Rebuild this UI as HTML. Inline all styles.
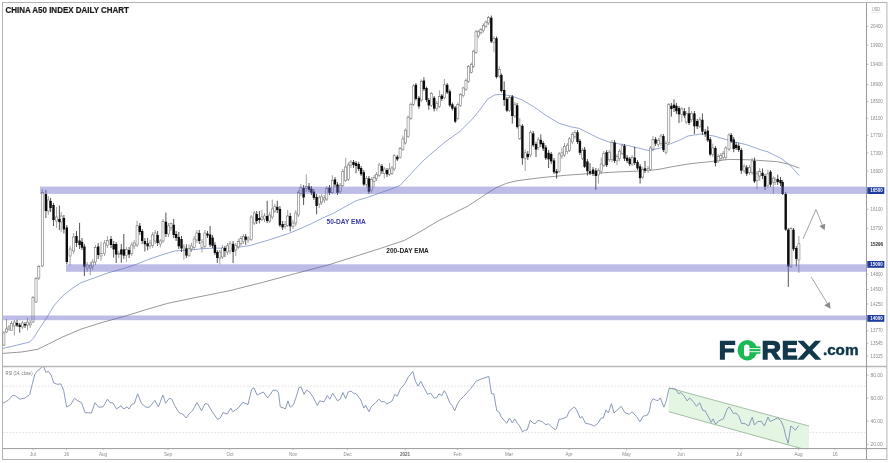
<!DOCTYPE html>
<html><head><meta charset="utf-8"><title>China A50 Index Daily Chart</title>
<style>
html,body{margin:0;padding:0;background:#fff;}
body{width:890px;height:463px;overflow:hidden;font-family:"Liberation Sans",sans-serif;}
svg{display:block;font-family:"Liberation Sans",sans-serif;filter:blur(0.45px);}
</style></head><body>
<svg width="890" height="463" viewBox="0 0 890 463">
<rect x="0" y="0" width="890" height="463" fill="#ffffff"/>

<rect x="2.5" y="2.5" width="884.4" height="457" fill="#fff" stroke="#b4b4b4" stroke-width="1"/>
<path d="M3 386.2H866M3 432.6H866" stroke="#d6d6d6" stroke-width="0.8" stroke-dasharray="1.4 1.8" fill="none"/>
<clipPath id="cp"><rect x="3" y="367" width="806" height="81.6"/></clipPath>
<g clip-path="url(#cp)"><polygon points="669,387.9 809,426 809,460 840,460 668.7,411.7" fill="#e5f5e3" />
<polygon points="669,387.9 809,426 809,450.6 668.7,411.7" fill="#e5f5e3"/>
<path d="M669 387.9L809 426M668.7 411.7L809 450.6" stroke="#9cb99e" stroke-width="0.9" fill="none"/></g>
<polyline points="2.7,353.4 21.6,352.0 37.8,349.3 48.6,343.9 62.1,337.2 81.0,329.1 102.6,322.3 124.2,316.4 145.8,309.7 167.4,303.4 189.0,298.9 210.6,294.5 230.0,290.6 262.6,282.4 295.2,273.6 327.7,265.1 357.2,255.8 380.8,248.3 404.4,240.4 420.0,231.8 437.3,221.4 454.6,212.7 468.4,205.8 478.8,198.9 489.2,192.0 496.1,187.7 506.5,183.3 516.8,180.8 527.2,179.4 541.8,177.6 566.5,175.2 591.2,173.5 616.0,172.0 640.7,171.0 658.0,169.5 672.8,166.6 687.7,164.1 700.0,162.6 707.4,162.0 729.0,159.4 750.6,159.8 765.7,160.9 776.6,161.6 787.4,163.8 799.3,168.0" fill="none" stroke="#7d7d7d" stroke-width="0.8" stroke-linejoin="round"/>
<polyline points="2.7,348.5 16.2,345.3 29.7,342.0 34.0,337.5 39.3,328.8 47.2,317.0 53.9,305.7 62.9,295.6 71.9,288.6 81.0,282.7 94.5,277.8 108.0,272.9 121.5,269.2 135.0,264.8 148.5,259.4 162.0,254.8 175.5,250.8 189.0,250.3 202.5,248.6 216.0,248.1 230.0,248.5 249.5,245.6 269.1,239.9 288.6,233.5 300.0,228.8 311.2,223.8 322.5,218.1 333.7,213.1 344.9,206.9 356.2,200.7 367.4,197.4 378.7,193.4 389.9,189.5 400.0,185.5 412.5,172.0 423.9,160.0 445.0,142.0 460.0,131.3 472.0,119.4 480.0,109.7 487.4,99.3 494.8,94.9 502.2,94.4 512.1,96.1 522.0,99.8 534.4,107.2 546.7,115.9 559.1,123.3 571.5,127.0 578.9,128.3 588.8,133.2 598.7,138.2 608.6,141.9 618.4,143.8 628.3,145.6 638.2,148.0 648.1,150.5 653.1,149.8 660.5,148.0 670.4,143.8 680.2,139.9 688.0,136.0 701.0,133.9 713.9,136.0 729.0,140.4 746.3,144.7 761.4,150.0 768.0,151.9 775.0,155.5 781.0,158.4 789.6,164.8 799.3,175.6" fill="none" stroke="#7f93c6" stroke-width="0.8" stroke-linejoin="round"/>
<path d="M3.9 331.0V346.0M6.5 319.0V333.0M9.0 325.0V331.0M11.5 321.0V331.0M14.4 319.8V335.5M22.5 321.0V329.0M27.5 318.0V330.4M30.2 320.0V328.0M33.0 296.0V323.0M36.0 277.0V303.0M38.8 265.0V280.0M42.3 189.0V267.0M48.3 196.0V215.0M56.6 207.0V228.0M61.2 212.0V232.0M70.1 246.0V265.5M73.7 233.0V254.0M87.2 262.0V272.0M90.3 262.0V275.0M92.7 259.0V270.0M95.5 245.0V265.0M101.0 241.8V260.8M104.6 240.0V256.0M107.4 236.0V248.0M118.8 251.0V258.0M126.4 247.0V261.7M131.8 242.0V256.0M134.2 240.0V249.0M137.1 220.7V247.0M150.0 240.0V249.0M152.7 232.0V248.0M155.2 230.0V244.0M160.3 239.0V247.4M163.0 219.0V243.0M168.5 223.0V237.0M171.0 222.7V231.0M183.9 244.0V259.7M189.0 244.3V257.0M191.5 243.0V252.0M194.2 236.0V250.0M196.9 230.0V243.0M202.0 239.0V252.5M204.9 230.0V248.0M219.8 250.0V264.3M222.5 245.0V259.0M227.6 243.0V255.0M230.0 241.0V254.0M235.8 243.0V256.0M238.3 239.0V249.0M240.9 236.0V246.0M243.4 234.0V244.0M248.1 236.0V243.0M251.2 215.0V241.0M254.3 211.0V225.0M261.9 210.0V221.2M264.5 213.0V222.0M269.7 212.0V223.0M272.3 199.6V219.0M274.8 204.0V213.0M285.1 221.0V229.0M287.7 210.0V227.0M292.9 220.0V229.0M295.8 210.0V226.0M298.4 190.0V217.0M300.9 184.0V196.0M306.3 174.3V192.0M319.2 195.0V208.0M321.7 194.0V205.0M324.4 195.0V203.0M326.8 186.0V201.0M332.4 175.3V194.0M340.2 183.0V194.0M342.8 169.0V187.0M345.7 157.9V182.0M348.4 162.0V181.0M350.9 160.0V168.0M366.5 176.0V187.0M371.6 177.0V193.0M374.1 175.0V187.6M376.5 172.0V181.0M379.2 163.0V177.0M384.3 167.0V178.4M389.5 163.0V176.0M391.9 166.0V175.0M394.2 154.0V171.0M400.1 147.0V158.5M402.9 135.6V151.0M405.5 128.5V144.5M408.1 115.5V138.0M410.9 102.5V120.0M413.5 84.0V106.0M421.3 79.5V102.0M431.4 92.0V107.0M436.8 101.0V111.0M439.4 90.2V108.0M444.4 79.0V99.5M457.8 102.5V120.0M460.6 93.0V107.0M463.2 86.5V97.5M466.0 78.5V91.0M468.6 65.0V83.0M471.4 62.5V73.5M473.6 49.5V68.0M476.0 30.0V54.0M478.3 30.0V38.0M480.9 28.0V34.5M483.5 23.5V32.5M485.9 20.5V28.0M488.5 16.0V25.0M493.9 36.0V52.3M499.3 66.3V78.0M509.5 96.0V112.0M514.9 102.0V118.0M519.8 118.2V140.0M525.2 149.6V171.0M530.6 130.0V157.0M538.2 137.0V150.0M559.1 152.0V173.0M561.9 147.4V159.0M564.5 143.0V157.0M567.4 143.0V154.0M569.5 137.0V152.0M572.3 132.0V144.0M574.9 130.0V139.0M582.5 148.0V160.0M598.4 168.0V183.6M601.2 157.6V174.0M603.8 151.0V167.0M609.2 150.0V162.0M612.0 140.0V162.0M617.0 154.0V165.2M619.6 149.0V161.0M622.2 143.6V155.0M632.1 155.0V166.0M642.7 167.0V179.0M648.1 166.0V173.0M650.4 146.0V171.0M653.0 136.0V151.0M658.4 138.0V147.0M661.0 134.0V146.0M666.0 141.0V154.4M668.8 103.0V144.0M681.8 107.0V122.0M686.2 111.0V124.0M691.6 111.0V122.0M699.8 117.0V128.0M712.8 143.6V157.0M718.2 154.0V163.0M720.8 153.0V161.0M723.2 151.0V160.0M725.8 146.0V160.0M729.0 133.0V151.0M744.1 164.0V173.0M749.5 165.0V175.0M752.1 158.0V175.0M757.0 171.0V189.0M759.7 168.0V181.0M767.9 169.5V188.0M773.3 176.0V194.0M775.1 177.0V185.0M790.9 227.0V268.0M798.9 236.0V273.0" stroke="#7a7a7a" stroke-width="0.7" fill="none"/>
<path d="M17.0 319.8V327.0M19.7 323.0V332.7M25.0 322.0V328.0M45.9 190.0V218.0M50.6 198.0V212.0M53.5 203.0V226.0M59.4 205.5V230.0M63.9 215.0V233.5M66.8 225.0V264.0M76.5 231.0V247.0M79.6 222.8V249.0M82.0 238.0V250.0M84.4 244.0V276.0M98.2 243.0V259.0M111.0 236.0V248.0M113.7 241.0V257.6M116.2 242.0V263.0M121.3 244.0V262.8M123.8 234.0V259.0M129.1 247.0V258.0M139.8 223.0V235.0M142.2 229.0V244.0M144.9 238.0V251.5M147.6 238.0V250.4M157.6 231.0V246.0M165.9 212.5V237.0M173.7 219.0V238.0M176.1 231.0V241.0M178.8 232.0V249.0M181.5 236.0V252.0M186.4 244.3V258.0M199.3 230.0V244.0M207.5 231.0V238.0M210.1 226.0V247.0M212.6 235.0V248.0M214.9 242.0V255.0M217.3 250.0V263.0M224.9 245.8V257.0M233.1 241.0V263.0M245.7 234.0V244.8M256.7 211.0V224.0M259.4 211.0V223.3M267.2 200.7V223.0M277.3 200.7V213.0M279.9 206.0V227.0M282.6 221.0V230.0M290.2 213.0V231.5M303.6 185.0V205.0M309.0 183.0V192.0M311.4 186.0V195.0M313.9 189.0V200.0M316.6 194.0V214.3M329.5 185.0V195.0M335.0 177.0V187.0M337.5 182.0V195.0M353.5 160.0V168.0M356.0 161.0V173.3M358.7 162.0V171.0M361.1 166.0V176.0M363.8 170.0V186.0M368.9 176.0V194.0M381.9 164.0V174.0M387.0 168.0V177.0M397.3 155.0V161.0M415.9 83.0V100.5M418.9 96.0V108.6M423.9 77.3V91.0M426.5 86.5V102.0M428.8 98.0V109.7M434.2 96.0V111.4M441.8 94.0V101.0M447.2 83.0V94.0M449.8 89.5V107.0M452.4 102.5V110.5M455.2 106.0V123.0M491.3 15.5V43.0M496.5 36.5V78.5M501.4 73.5V92.5M504.2 81.4V106.0M506.9 97.0V112.0M512.3 95.0V123.6M517.2 103.0V128.5M522.4 124.0V164.7M527.8 151.0V160.0M533.2 131.0V147.0M536.0 142.0V157.1M540.8 134.4V147.0M543.2 141.0V151.0M545.8 145.0V160.0M548.6 150.0V168.0M551.2 152.0V164.0M554.0 158.0V174.0M556.6 169.0V178.7M577.5 130.0V144.0M579.9 139.0V155.0M584.6 147.0V168.0M587.4 159.0V175.5M590.0 163.0V175.0M593.0 167.0V176.0M595.8 168.0V190.0M606.6 150.0V167.0M614.6 140.0V163.0M624.5 144.0V161.0M627.1 155.0V163.0M629.7 157.0V166.0M634.7 146.8V165.0M637.5 160.0V170.0M640.1 164.0V183.6M645.0 160.9V173.0M655.6 137.0V146.0M663.4 134.0V152.0M671.4 103.0V116.6M674.0 99.3V112.0M676.4 103.0V114.0M679.0 106.0V123.0M684.4 108.0V118.0M689.0 106.9V125.0M694.4 111.0V133.9M697.2 119.0V129.0M702.4 113.4V135.0M705.2 129.0V137.0M707.8 126.3V142.0M710.2 137.0V156.0M715.4 146.0V166.3M731.2 133.0V143.0M733.7 137.0V152.2M736.1 142.0V150.0M738.7 143.0V152.0M741.3 148.0V173.8M746.7 165.0V176.0M754.5 157.6V183.0M762.5 168.4V179.0M765.0 174.0V190.0M770.5 170.0V187.0M777.7 174.6V185.0M780.5 177.0V186.0M782.6 180.0V195.0M785.7 192.0V231.0M788.3 228.0V287.0M793.5 228.0V251.0M796.3 246.0V266.4" stroke="#2a2a2a" stroke-width="0.8" fill="none"/>
<g fill="#fff" stroke="#6a6a6a" stroke-width="0.55"><rect x="2.85" y="333.0" width="2.1" height="12.0"/><rect x="5.45" y="329.0" width="2.1" height="3.0"/><rect x="7.95" y="327.0" width="2.1" height="2.0"/><rect x="10.45" y="323.7" width="2.1" height="6.7"/><rect x="13.35" y="322.0" width="2.1" height="4.0"/><rect x="21.45" y="323.0" width="2.1" height="4.0"/><rect x="26.45" y="322.0" width="2.1" height="3.0"/><rect x="29.15" y="323.0" width="2.1" height="2.0"/><rect x="31.95" y="297.5" width="2.1" height="24.5"/><rect x="34.95" y="278.5" width="2.1" height="23.5"/><rect x="37.75" y="266.7" width="2.1" height="11.3"/><rect x="41.25" y="192.5" width="2.1" height="73.5"/><rect x="47.25" y="200.0" width="2.1" height="11.0"/><rect x="55.55" y="217.0" width="2.1" height="4.0"/><rect x="60.15" y="216.0" width="2.1" height="6.0"/><rect x="69.05" y="249.0" width="2.1" height="7.0"/><rect x="72.65" y="237.0" width="2.1" height="14.0"/><rect x="86.15" y="265.0" width="2.1" height="3.0"/><rect x="89.25" y="265.5" width="2.1" height="2.5"/><rect x="91.65" y="262.0" width="2.1" height="4.7"/><rect x="94.45" y="247.7" width="2.1" height="14.3"/><rect x="99.95" y="253.6" width="2.1" height="2.4"/><rect x="103.55" y="243.0" width="2.1" height="10.6"/><rect x="106.35" y="240.6" width="2.1" height="4.7"/><rect x="117.75" y="253.5" width="2.1" height="1.0"/><rect x="125.35" y="249.4" width="2.1" height="6.2"/><rect x="130.75" y="245.0" width="2.1" height="8.5"/><rect x="133.15" y="243.0" width="2.1" height="3.0"/><rect x="136.05" y="225.8" width="2.1" height="19.2"/><rect x="148.95" y="243.0" width="2.1" height="3.0"/><rect x="151.65" y="235.0" width="2.1" height="10.3"/><rect x="154.15" y="233.0" width="2.1" height="8.0"/><rect x="159.25" y="241.0" width="2.1" height="3.0"/><rect x="161.95" y="221.7" width="2.1" height="19.3"/><rect x="167.45" y="225.8" width="2.1" height="8.2"/><rect x="169.95" y="223.7" width="2.1" height="4.2"/><rect x="182.85" y="247.0" width="2.1" height="2.0"/><rect x="187.95" y="248.4" width="2.1" height="7.2"/><rect x="190.45" y="246.0" width="2.1" height="3.0"/><rect x="193.15" y="239.0" width="2.1" height="8.4"/><rect x="195.85" y="233.0" width="2.1" height="7.0"/><rect x="200.95" y="242.0" width="2.1" height="5.4"/><rect x="203.85" y="233.0" width="2.1" height="13.3"/><rect x="218.75" y="252.0" width="2.1" height="6.0"/><rect x="221.45" y="247.9" width="2.1" height="9.1"/><rect x="226.55" y="245.8" width="2.1" height="6.2"/><rect x="228.95" y="243.8" width="2.1" height="7.2"/><rect x="234.75" y="245.8" width="2.1" height="4.2"/><rect x="237.25" y="241.7" width="2.1" height="5.2"/><rect x="239.85" y="238.7" width="2.1" height="5.1"/><rect x="242.35" y="236.6" width="2.1" height="5.1"/><rect x="247.05" y="238.0" width="2.1" height="2.0"/><rect x="250.15" y="217.0" width="2.1" height="22.7"/><rect x="253.25" y="213.0" width="2.1" height="10.0"/><rect x="260.85" y="217.0" width="2.1" height="2.5"/><rect x="263.45" y="216.0" width="2.1" height="3.0"/><rect x="268.65" y="215.0" width="2.1" height="6.0"/><rect x="271.25" y="208.9" width="2.1" height="8.1"/><rect x="273.75" y="206.8" width="2.1" height="4.2"/><rect x="284.05" y="224.3" width="2.1" height="2.0"/><rect x="286.65" y="216.0" width="2.1" height="9.3"/><rect x="291.85" y="223.0" width="2.1" height="3.3"/><rect x="294.75" y="213.0" width="2.1" height="10.0"/><rect x="297.35" y="192.5" width="2.1" height="22.5"/><rect x="299.85" y="187.3" width="2.1" height="6.2"/><rect x="305.25" y="186.6" width="2.1" height="2.1"/><rect x="318.15" y="197.9" width="2.1" height="6.1"/><rect x="320.65" y="196.9" width="2.1" height="5.1"/><rect x="323.35" y="197.9" width="2.1" height="2.1"/><rect x="325.75" y="188.7" width="2.1" height="10.3"/><rect x="331.35" y="180.4" width="2.1" height="12.4"/><rect x="339.15" y="185.6" width="2.1" height="6.1"/><rect x="341.75" y="171.2" width="2.1" height="14.4"/><rect x="344.65" y="167.0" width="2.1" height="13.4"/><rect x="347.35" y="165.0" width="2.1" height="14.4"/><rect x="349.85" y="162.0" width="2.1" height="3.0"/><rect x="365.45" y="178.4" width="2.1" height="6.1"/><rect x="370.55" y="179.4" width="2.1" height="11.3"/><rect x="373.05" y="177.4" width="2.1" height="4.1"/><rect x="375.45" y="174.3" width="2.1" height="4.1"/><rect x="378.15" y="165.0" width="2.1" height="10.3"/><rect x="383.25" y="169.0" width="2.1" height="4.3"/><rect x="388.45" y="169.0" width="2.1" height="5.3"/><rect x="390.85" y="168.0" width="2.1" height="5.3"/><rect x="393.15" y="155.8" width="2.1" height="13.2"/><rect x="399.05" y="148.5" width="2.1" height="8.7"/><rect x="401.85" y="138.8" width="2.1" height="10.8"/><rect x="404.45" y="130.2" width="2.1" height="12.8"/><rect x="407.05" y="117.2" width="2.1" height="19.5"/><rect x="409.85" y="104.3" width="2.1" height="14.0"/><rect x="412.45" y="85.9" width="2.1" height="18.4"/><rect x="420.25" y="81.6" width="2.1" height="18.4"/><rect x="430.35" y="93.5" width="2.1" height="11.9"/><rect x="435.75" y="103.2" width="2.1" height="5.4"/><rect x="438.35" y="96.7" width="2.1" height="9.7"/><rect x="443.35" y="84.8" width="2.1" height="13.0"/><rect x="456.75" y="104.3" width="2.1" height="14.0"/><rect x="459.55" y="94.6" width="2.1" height="10.8"/><rect x="462.15" y="88.0" width="2.1" height="7.6"/><rect x="464.95" y="80.5" width="2.1" height="8.7"/><rect x="467.55" y="66.5" width="2.1" height="15.0"/><rect x="470.35" y="64.3" width="2.1" height="8.0"/><rect x="472.55" y="51.2" width="2.1" height="15.1"/><rect x="474.95" y="31.8" width="2.1" height="20.5"/><rect x="477.25" y="31.8" width="2.1" height="4.2"/><rect x="479.85" y="29.6" width="2.1" height="3.2"/><rect x="482.45" y="25.3" width="2.1" height="5.4"/><rect x="484.85" y="22.0" width="2.1" height="4.4"/><rect x="487.45" y="17.7" width="2.1" height="5.3"/><rect x="492.85" y="38.2" width="2.1" height="4.4"/><rect x="498.25" y="69.6" width="2.1" height="6.4"/><rect x="508.45" y="97.7" width="2.1" height="13.0"/><rect x="513.85" y="104.2" width="2.1" height="11.8"/><rect x="518.75" y="125.8" width="2.1" height="13.0"/><rect x="524.15" y="152.8" width="2.1" height="5.4"/><rect x="529.55" y="132.3" width="2.1" height="22.7"/><rect x="537.15" y="139.8" width="2.1" height="7.6"/><rect x="558.05" y="153.9" width="2.1" height="17.3"/><rect x="560.85" y="152.8" width="2.1" height="3.2"/><rect x="563.45" y="146.3" width="2.1" height="8.7"/><rect x="566.35" y="145.2" width="2.1" height="6.5"/><rect x="568.45" y="138.8" width="2.1" height="11.8"/><rect x="571.25" y="134.4" width="2.1" height="7.6"/><rect x="573.85" y="132.3" width="2.1" height="4.3"/><rect x="581.45" y="150.6" width="2.1" height="7.6"/><rect x="597.35" y="170.6" width="2.1" height="4.4"/><rect x="600.15" y="164.0" width="2.1" height="7.7"/><rect x="602.75" y="153.3" width="2.1" height="11.9"/><rect x="608.15" y="152.2" width="2.1" height="7.6"/><rect x="610.95" y="142.5" width="2.1" height="17.3"/><rect x="615.95" y="156.6" width="2.1" height="4.3"/><rect x="618.55" y="151.2" width="2.1" height="7.5"/><rect x="621.15" y="145.8" width="2.1" height="7.5"/><rect x="631.05" y="157.6" width="2.1" height="6.5"/><rect x="641.65" y="169.5" width="2.1" height="7.5"/><rect x="647.05" y="168.4" width="2.1" height="2.2"/><rect x="649.35" y="147.9" width="2.1" height="21.6"/><rect x="651.95" y="139.3" width="2.1" height="9.7"/><rect x="657.35" y="140.4" width="2.1" height="4.3"/><rect x="659.95" y="136.0" width="2.1" height="7.6"/><rect x="664.95" y="143.6" width="2.1" height="8.6"/><rect x="667.75" y="104.7" width="2.1" height="37.8"/><rect x="680.75" y="109.0" width="2.1" height="5.4"/><rect x="685.15" y="113.4" width="2.1" height="8.6"/><rect x="690.55" y="113.4" width="2.1" height="6.4"/><rect x="698.75" y="119.8" width="2.1" height="6.5"/><rect x="711.75" y="148.0" width="2.1" height="6.4"/><rect x="717.15" y="156.6" width="2.1" height="4.3"/><rect x="719.75" y="155.5" width="2.1" height="3.2"/><rect x="722.15" y="153.3" width="2.1" height="4.3"/><rect x="724.75" y="148.0" width="2.1" height="9.6"/><rect x="727.95" y="135.0" width="2.1" height="14.0"/><rect x="743.05" y="166.3" width="2.1" height="4.3"/><rect x="748.45" y="167.4" width="2.1" height="5.4"/><rect x="751.05" y="160.9" width="2.1" height="11.9"/><rect x="755.95" y="173.8" width="2.1" height="6.5"/><rect x="758.65" y="171.7" width="2.1" height="4.3"/><rect x="766.85" y="173.8" width="2.1" height="11.9"/><rect x="772.25" y="178.2" width="2.1" height="4.3"/><rect x="774.05" y="180.0" width="2.1" height="2.1"/><rect x="789.85" y="228.6" width="2.1" height="37.8"/><rect x="797.85" y="243.8" width="2.1" height="16.2"/></g>
<g fill="#0c0c0c"><rect x="15.80" y="323.0" width="2.4" height="2.4"/><rect x="18.50" y="324.8" width="2.4" height="2.2"/><rect x="23.80" y="324.0" width="2.4" height="1.5"/><rect x="44.70" y="194.0" width="2.4" height="17.0"/><rect x="49.40" y="201.0" width="2.4" height="7.0"/><rect x="52.30" y="205.0" width="2.4" height="15.0"/><rect x="58.20" y="219.0" width="2.4" height="3.0"/><rect x="62.70" y="218.0" width="2.4" height="11.5"/><rect x="65.60" y="227.5" width="2.4" height="34.5"/><rect x="75.30" y="236.0" width="2.4" height="7.0"/><rect x="78.40" y="240.5" width="2.4" height="4.5"/><rect x="80.80" y="241.8" width="2.4" height="5.9"/><rect x="83.20" y="246.5" width="2.4" height="20.2"/><rect x="97.00" y="246.5" width="2.4" height="8.5"/><rect x="109.80" y="239.0" width="2.4" height="6.0"/><rect x="112.50" y="244.0" width="2.4" height="5.4"/><rect x="115.00" y="244.0" width="2.4" height="10.5"/><rect x="120.10" y="249.4" width="2.4" height="5.1"/><rect x="122.60" y="249.4" width="2.4" height="6.2"/><rect x="127.90" y="250.0" width="2.4" height="4.5"/><rect x="138.60" y="225.8" width="2.4" height="6.2"/><rect x="141.00" y="231.0" width="2.4" height="10.0"/><rect x="143.70" y="241.0" width="2.4" height="3.3"/><rect x="146.40" y="243.3" width="2.4" height="3.0"/><rect x="156.40" y="235.0" width="2.4" height="8.0"/><rect x="164.70" y="221.7" width="2.4" height="12.3"/><rect x="172.50" y="224.8" width="2.4" height="10.2"/><rect x="174.90" y="234.0" width="2.4" height="4.0"/><rect x="177.60" y="237.0" width="2.4" height="9.3"/><rect x="180.30" y="239.0" width="2.4" height="9.4"/><rect x="185.20" y="248.4" width="2.4" height="7.2"/><rect x="198.10" y="233.0" width="2.4" height="8.0"/><rect x="206.30" y="233.5" width="2.4" height="2.1"/><rect x="208.90" y="234.5" width="2.4" height="10.3"/><rect x="211.40" y="237.6" width="2.4" height="8.2"/><rect x="213.70" y="244.8" width="2.4" height="8.2"/><rect x="216.10" y="252.0" width="2.4" height="6.0"/><rect x="223.70" y="247.9" width="2.4" height="3.1"/><rect x="231.90" y="243.8" width="2.4" height="8.2"/><rect x="244.50" y="236.6" width="2.4" height="3.1"/><rect x="255.50" y="214.0" width="2.4" height="7.0"/><rect x="258.20" y="218.0" width="2.4" height="2.0"/><rect x="266.00" y="216.0" width="2.4" height="5.0"/><rect x="276.10" y="206.8" width="2.4" height="3.2"/><rect x="278.70" y="208.9" width="2.4" height="16.4"/><rect x="281.40" y="224.0" width="2.4" height="3.4"/><rect x="289.00" y="216.0" width="2.4" height="10.3"/><rect x="302.40" y="188.0" width="2.4" height="9.5"/><rect x="307.80" y="186.6" width="2.4" height="3.1"/><rect x="310.20" y="188.7" width="2.4" height="4.1"/><rect x="312.70" y="191.7" width="2.4" height="6.2"/><rect x="315.40" y="196.9" width="2.4" height="9.1"/><rect x="328.30" y="187.6" width="2.4" height="5.2"/><rect x="333.80" y="179.4" width="2.4" height="5.1"/><rect x="336.30" y="184.5" width="2.4" height="8.3"/><rect x="352.30" y="162.0" width="2.4" height="3.0"/><rect x="354.80" y="163.0" width="2.4" height="3.0"/><rect x="357.50" y="164.0" width="2.4" height="5.0"/><rect x="359.90" y="168.0" width="2.4" height="6.3"/><rect x="362.60" y="172.2" width="2.4" height="12.3"/><rect x="367.70" y="178.4" width="2.4" height="13.3"/><rect x="380.70" y="166.0" width="2.4" height="5.2"/><rect x="385.80" y="170.0" width="2.4" height="4.3"/><rect x="396.10" y="156.8" width="2.4" height="2.6"/><rect x="414.70" y="84.8" width="2.4" height="14.1"/><rect x="417.70" y="97.8" width="2.4" height="8.6"/><rect x="422.70" y="80.5" width="2.4" height="8.7"/><rect x="425.30" y="88.0" width="2.4" height="12.0"/><rect x="427.60" y="100.0" width="2.4" height="5.4"/><rect x="433.00" y="97.8" width="2.4" height="10.8"/><rect x="440.60" y="95.6" width="2.4" height="3.3"/><rect x="446.00" y="84.8" width="2.4" height="7.6"/><rect x="448.60" y="91.3" width="2.4" height="14.1"/><rect x="451.20" y="104.3" width="2.4" height="4.3"/><rect x="454.00" y="107.5" width="2.4" height="14.1"/><rect x="490.10" y="17.7" width="2.4" height="23.8"/><rect x="495.30" y="38.2" width="2.4" height="38.8"/><rect x="500.20" y="75.0" width="2.4" height="16.0"/><rect x="503.00" y="90.0" width="2.4" height="10.0"/><rect x="505.70" y="98.8" width="2.4" height="11.9"/><rect x="511.10" y="96.6" width="2.4" height="19.4"/><rect x="516.00" y="105.3" width="2.4" height="21.6"/><rect x="521.20" y="125.8" width="2.4" height="32.4"/><rect x="526.60" y="153.9" width="2.4" height="3.2"/><rect x="532.00" y="133.4" width="2.4" height="11.8"/><rect x="534.80" y="144.0" width="2.4" height="5.6"/><rect x="539.60" y="139.8" width="2.4" height="4.4"/><rect x="542.00" y="143.0" width="2.4" height="5.5"/><rect x="544.60" y="147.4" width="2.4" height="10.8"/><rect x="547.40" y="152.8" width="2.4" height="6.5"/><rect x="550.00" y="153.9" width="2.4" height="7.5"/><rect x="552.80" y="160.4" width="2.4" height="11.8"/><rect x="555.40" y="171.2" width="2.4" height="2.1"/><rect x="576.30" y="132.3" width="2.4" height="9.7"/><rect x="578.70" y="140.9" width="2.4" height="11.9"/><rect x="583.40" y="149.6" width="2.4" height="17.2"/><rect x="586.20" y="161.4" width="2.4" height="9.8"/><rect x="588.80" y="171.2" width="2.4" height="2.1"/><rect x="591.80" y="169.5" width="2.4" height="4.3"/><rect x="594.60" y="170.6" width="2.4" height="5.4"/><rect x="605.40" y="152.2" width="2.4" height="13.0"/><rect x="613.40" y="142.5" width="2.4" height="18.4"/><rect x="623.30" y="145.8" width="2.4" height="12.9"/><rect x="625.90" y="157.6" width="2.4" height="3.3"/><rect x="628.50" y="158.7" width="2.4" height="5.4"/><rect x="633.50" y="157.6" width="2.4" height="5.4"/><rect x="636.30" y="162.0" width="2.4" height="6.4"/><rect x="638.90" y="166.3" width="2.4" height="11.9"/><rect x="643.80" y="168.4" width="2.4" height="2.2"/><rect x="654.40" y="139.3" width="2.4" height="4.3"/><rect x="662.20" y="136.0" width="2.4" height="14.0"/><rect x="670.20" y="105.8" width="2.4" height="3.2"/><rect x="672.80" y="104.7" width="2.4" height="3.3"/><rect x="675.20" y="105.8" width="2.4" height="5.4"/><rect x="677.80" y="108.0" width="2.4" height="6.4"/><rect x="683.20" y="111.2" width="2.4" height="4.3"/><rect x="687.80" y="113.4" width="2.4" height="9.6"/><rect x="693.20" y="113.4" width="2.4" height="12.9"/><rect x="696.00" y="121.0" width="2.4" height="5.3"/><rect x="701.20" y="119.8" width="2.4" height="11.9"/><rect x="704.00" y="131.7" width="2.4" height="2.2"/><rect x="706.60" y="130.6" width="2.4" height="9.8"/><rect x="709.00" y="139.3" width="2.4" height="15.1"/><rect x="714.20" y="148.0" width="2.4" height="15.0"/><rect x="730.00" y="135.0" width="2.4" height="6.4"/><rect x="732.50" y="139.3" width="2.4" height="9.7"/><rect x="734.90" y="144.7" width="2.4" height="3.3"/><rect x="737.50" y="145.8" width="2.4" height="4.2"/><rect x="740.10" y="150.0" width="2.4" height="20.6"/><rect x="745.50" y="167.4" width="2.4" height="6.4"/><rect x="753.30" y="160.9" width="2.4" height="20.5"/><rect x="761.30" y="172.8" width="2.4" height="3.2"/><rect x="763.80" y="176.0" width="2.4" height="10.8"/><rect x="769.30" y="171.7" width="2.4" height="12.9"/><rect x="776.50" y="178.9" width="2.4" height="3.2"/><rect x="779.30" y="180.0" width="2.4" height="3.2"/><rect x="781.40" y="182.0" width="2.4" height="12.0"/><rect x="784.50" y="194.0" width="2.4" height="35.6"/><rect x="787.10" y="229.7" width="2.4" height="36.7"/><rect x="792.30" y="229.7" width="2.4" height="19.5"/><rect x="795.10" y="248.0" width="2.4" height="10.9"/></g>
<g fill="#5f5fc6" fill-opacity="0.42"><rect x="40" y="186.6" width="826.5" height="7.3"/><rect x="66" y="264.3" width="800.5" height="7.5"/><rect x="3" y="315.5" width="863.5" height="4.7"/></g>
<polyline points="2.7,403.3 8.1,400.4 12.5,395.6 15.2,395.6 19.7,399.2 25.1,397.9 29.6,394.7 32.3,383.9 34.9,374.1 37.6,370.5 40.3,368.7 42.1,366.6 43.9,366.9 45.7,372.3 48.4,371.4 51.1,375.0 53.8,383.0 57.3,384.3 60.9,383.9 63.6,390.2 66.7,407.2 70.8,404.5 74.4,398.3 78.0,400.9 81.5,402.7 85.1,412.6 91.4,413.0 95.0,402.7 98.6,407.2 103.0,406.9 107.5,399.2 110.2,402.7 112.9,402.7 116.5,409.0 121.0,405.8 123.7,409.0 127.2,406.9 129.0,409.0 131.7,404.5 134.4,403.6 137.6,393.8 141.6,403.6 146.0,407.2 149.5,407.2 154.9,400.4 158.4,406.9 162.9,395.0 165.6,403.3 169.2,398.3 171.9,399.2 174.6,405.4 179.0,412.6 182.6,414.0 186.2,418.0 188.9,414.0 192.5,410.8 197.0,402.4 201.5,410.8 205.0,403.6 207.7,404.0 212.2,411.7 217.6,419.4 220.3,418.0 223.0,412.6 227.4,414.0 230.7,408.1 232.8,411.7 238.2,408.1 242.7,402.4 248.0,404.5 251.6,389.3 254.0,387.9 257.0,395.0 263.3,392.0 267.8,397.9 273.1,390.2 276.7,390.2 278.5,392.9 280.3,406.9 283.9,408.1 285.3,409.0 288.0,400.9 290.2,407.2 293.6,404.5 296.3,396.5 299.0,387.5 301.1,387.1 304.0,394.3 306.5,390.2 309.7,392.0 313.3,397.4 317.2,405.4 319.6,400.9 324.0,401.8 327.3,395.6 329.8,399.2 332.7,393.2 337.5,400.9 340.2,399.2 342.9,392.5 345.6,398.6 348.2,392.0 350.9,391.1 353.6,393.2 356.3,393.8 360.8,400.0 363.8,408.1 365.6,405.1 368.9,411.7 371.5,406.3 375.7,402.7 378.7,399.2 381.8,401.8 384.1,401.5 386.8,404.0 392.2,400.9 394.8,394.3 397.2,396.5 400.2,389.3 404.7,383.9 408.3,377.1 412.8,371.4 415.4,381.2 418.1,386.1 420.8,381.2 424.4,388.4 427.6,394.3 430.7,393.2 434.3,398.3 437.0,397.4 438.9,393.8 441.8,395.6 444.3,390.7 446.6,394.7 449.7,402.7 452.0,405.4 454.7,410.8 457.4,404.0 460.1,399.7 463.7,396.5 470.8,388.4 476.2,381.2 481.6,378.9 488.8,376.4 491.5,393.8 493.8,393.8 496.8,410.8 499.2,412.2 501.3,417.1 506.7,423.3 509.4,418.0 512.4,423.0 514.7,418.9 517.4,423.3 519.6,426.0 522.5,431.9 524.6,430.5 527.3,429.6 530.3,420.1 532.7,423.0 535.4,423.7 538.0,420.1 542.5,421.9 545.8,424.8 548.3,423.7 551.5,426.9 555.1,429.6 556.5,428.7 559.0,419.4 562.2,418.9 566.7,417.1 569.4,410.8 574.4,406.9 576.6,409.9 580.2,418.0 582.2,416.5 585.4,423.3 589.9,424.2 594.3,426.0 597.9,423.3 601.1,418.0 603.3,418.0 606.0,409.9 608.3,413.0 611.4,403.6 614.0,413.0 621.2,406.3 624.8,412.6 629.3,414.4 632.0,411.7 636.5,416.5 640.0,421.9 643.1,416.2 647.2,415.3 649.5,410.8 650.8,402.7 653.1,398.6 656.2,400.4 658.3,400.4 660.3,397.9 663.9,407.2 666.0,401.8 669.1,388.4 673.2,388.4 675.9,389.3 678.6,393.8 680.7,392.5 683.9,395.6 687.2,400.9 689.7,397.9 693.3,401.8 696.5,406.3 699.7,402.7 702.8,410.4 705.1,410.8 709.0,418.0 711.2,422.4 713.0,418.9 715.7,424.2 718.9,420.7 723.4,418.9 727.2,409.0 729.3,406.9 733.4,413.5 736.1,413.0 738.8,416.2 741.5,423.3 745.1,423.7 748.7,426.0 752.3,417.1 754.4,425.1 757.6,421.6 761.2,421.2 764.4,426.0 768.0,417.1 770.2,421.6 773.8,419.8 777.7,418.0 780.9,420.7 783.6,426.9 785.9,436.8 788.1,443.4 790.8,426.0 793.1,427.8 795.3,430.2 798.9,425.5" fill="none" stroke="#8a9ab9" stroke-width="1" stroke-linejoin="round"/>
<path d="M3 366.4H887" stroke="#b8b8b8" stroke-width="1.5" fill="none"/>
<path d="M3 448.6H887M866.5 3V459" stroke="#9a9a9a" stroke-width="1" fill="none"/>
<path d="M866.5 26.2h2M866.5 45.1h2M866.5 64.3h2M866.5 84.5h2M866.5 101.7h2M866.5 118.3h2M866.5 135.3h2M866.5 153.0h2M866.5 171.2h2M866.5 209.2h2M866.5 228.3h2M866.5 274.3h2M866.5 289.5h2M866.5 304.0h2M866.5 330.8h2M866.5 343.4h2M866.5 356.0h2M866.5 375.0h2M866.5 397.9h2M866.5 421.0h2M866.5 444.6h2" stroke="#999" stroke-width="0.6"/>
<path d="M33.0 448.6v1.5M66.5 448.6v1.5M103.0 448.6v1.5M168.0 448.6v1.5M230.0 448.6v1.5M293.0 448.6v1.5M347.5 448.6v1.5M457.5 448.6v1.5M509.0 448.6v1.5M569.0 448.6v1.5M626.5 448.6v1.5M681.0 448.6v1.5M739.0 448.6v1.5M798.5 448.6v1.5M835.0 448.6v1.5M405.0 448.6v1.5" stroke="#999" stroke-width="0.6"/>
<g font-size="4.6" fill="#8a8a8a">
<text x="870.5" y="27.8" textLength="12.3" lengthAdjust="spacingAndGlyphs">20400</text>
<text x="870.5" y="46.7" textLength="12.3" lengthAdjust="spacingAndGlyphs">19900</text>
<text x="870.5" y="65.9" textLength="12.3" lengthAdjust="spacingAndGlyphs">19400</text>
<text x="870.5" y="86.1" textLength="12.3" lengthAdjust="spacingAndGlyphs">18900</text>
<text x="870.5" y="103.3" textLength="12.3" lengthAdjust="spacingAndGlyphs">18500</text>
<text x="870.5" y="119.9" textLength="12.3" lengthAdjust="spacingAndGlyphs">18100</text>
<text x="870.5" y="136.9" textLength="12.3" lengthAdjust="spacingAndGlyphs">17700</text>
<text x="870.5" y="154.6" textLength="12.3" lengthAdjust="spacingAndGlyphs">17300</text>
<text x="870.5" y="172.8" textLength="12.3" lengthAdjust="spacingAndGlyphs">16900</text>
<text x="870.5" y="210.8" textLength="12.3" lengthAdjust="spacingAndGlyphs">16100</text>
<text x="870.5" y="229.9" textLength="12.3" lengthAdjust="spacingAndGlyphs">15700</text>
<text x="870.5" y="275.9" textLength="12.3" lengthAdjust="spacingAndGlyphs">14800</text>
<text x="870.5" y="291.1" textLength="12.3" lengthAdjust="spacingAndGlyphs">14500</text>
<text x="870.5" y="305.6" textLength="12.3" lengthAdjust="spacingAndGlyphs">14250</text>
<text x="870.5" y="332.4" textLength="12.3" lengthAdjust="spacingAndGlyphs">13770</text>
<text x="870.5" y="345.0" textLength="12.3" lengthAdjust="spacingAndGlyphs">13545</text>
<text x="870.5" y="357.6" textLength="12.3" lengthAdjust="spacingAndGlyphs">13325</text>
<text x="870.5" y="376.6" textLength="12.3" lengthAdjust="spacingAndGlyphs">80.00</text>
<text x="870.5" y="399.5" textLength="12.3" lengthAdjust="spacingAndGlyphs">60.00</text>
<text x="870.5" y="422.6" textLength="12.3" lengthAdjust="spacingAndGlyphs">40.00</text>
<text x="870.5" y="446.2" textLength="12.3" lengthAdjust="spacingAndGlyphs">20.00</text>
<text x="872" y="11.2" textLength="8" lengthAdjust="spacingAndGlyphs">USD</text>
<text x="33" y="455.6" text-anchor="middle">Jul</text>
<text x="66.5" y="455.6" text-anchor="middle">16</text>
<text x="103" y="455.6" text-anchor="middle">Aug</text>
<text x="168" y="455.6" text-anchor="middle">Sep</text>
<text x="230" y="455.6" text-anchor="middle">Oct</text>
<text x="293" y="455.6" text-anchor="middle">Nov</text>
<text x="347.5" y="455.6" text-anchor="middle">Dec</text>
<text x="457.5" y="455.6" text-anchor="middle">Feb</text>
<text x="509" y="455.6" text-anchor="middle">Mar</text>
<text x="569" y="455.6" text-anchor="middle">Apr</text>
<text x="626.5" y="455.6" text-anchor="middle">May</text>
<text x="681" y="455.6" text-anchor="middle">Jun</text>
<text x="739" y="455.6" text-anchor="middle">Jul</text>
<text x="798.5" y="455.6" text-anchor="middle">Aug</text>
<text x="835" y="455.6" text-anchor="middle">16</text>
<text x="405" y="455.6" text-anchor="middle" font-weight="bold" fill="#666">2021</text>
<text x="5.5" y="374.6" textLength="27" lengthAdjust="spacingAndGlyphs" fill="#777">RSI (14, close)</text>
</g>
<path d="M871.5 12.6h9" stroke="#aaa" stroke-width="0.5" stroke-dasharray="1 1"/>
<text x="870.5" y="246" font-size="4.8" font-weight="bold" fill="#222" textLength="12.5" lengthAdjust="spacingAndGlyphs">15296</text>
<rect x="867.3" y="187.2" width="17" height="6.8" fill="#1f3c9c"/>
<text x="870.3" y="192.3" font-size="4.7" font-weight="bold" fill="#fff" textLength="12.3" lengthAdjust="spacingAndGlyphs">16500</text>
<rect x="867.3" y="261" width="17" height="6.8" fill="#1f3c9c"/>
<text x="870.3" y="266.1" font-size="4.7" font-weight="bold" fill="#fff" textLength="12.3" lengthAdjust="spacingAndGlyphs">15000</text>
<rect x="867.3" y="315" width="17" height="6.8" fill="#1f3c9c"/>
<text x="870.3" y="320.1" font-size="4.7" font-weight="bold" fill="#fff" textLength="12.3" lengthAdjust="spacingAndGlyphs">14000</text>
<path d="M803 239L816 209.5L822.5 225.5" stroke="#8c8c8c" stroke-width="0.8" fill="none"/>
<polygon points="824.6,230.2 819.3,226 825.3,223.8" fill="#8c8c8c"/>
<path d="M811.4 277.2L828 304.5" stroke="#8c8c8c" stroke-width="0.8" fill="none"/>
<polygon points="830.6,308.8 824.2,305.3 829.7,301.9" fill="#8c8c8c"/>
<text x="5.4" y="12.8" font-size="8.5" font-weight="bold" fill="#1a1a1a" stroke="#1a1a1a" stroke-width="0.2" textLength="123.6" lengthAdjust="spacingAndGlyphs">CHINA A50 INDEX DAILY CHART</text>
<text x="326.5" y="224.2" font-size="6.4" font-weight="bold" fill="#3a3aa8" textLength="39.3" lengthAdjust="spacingAndGlyphs">50-DAY EMA</text>
<text x="386.3" y="253" font-size="6.4" font-weight="bold" fill="#222" textLength="42.5" lengthAdjust="spacingAndGlyphs">200-DAY EMA</text>
<g fill="#12384c">
<path d="M719.9 340.8H735.2V345H724.9V348.5H734.2V352.5H724.9V359.7H719.9Z"/>
<path fill-rule="evenodd" d="M762.7 340.8H773Q780.2 340.8 780.2 346.8Q780.2 351.2 776.2 352.4L781.4 359.7H775.5L770.9 352.8H767.7V359.7H762.7ZM767.7 345H772.4Q775 345 775 346.9Q775 348.8 772.4 348.8H767.7Z"/>
<path d="M782.8 340.8H797V345H787.8V348.3H796V352.2H787.8V355.5H797.2V359.7H782.8Z"/>
<path d="M797.4 340.8H803.6L809.3 346.7L815 340.8H821.1L812.4 350.1L821.4 359.7H815.2L809.3 353.5L803.4 359.7H797.2L806.2 350.1Z"/>
<text x="822.9" y="354.8" font-size="14" font-weight="bold" stroke="#12384c" stroke-width="0.45" textLength="35.6" lengthAdjust="spacingAndGlyphs">.com</text>
</g>
<ellipse cx="747.4" cy="350.3" rx="9.9" ry="10.3" fill="#1db954"/>
<rect x="755" y="346.4" width="5.4" height="7.4" fill="#1db954"/>
<rect x="744" y="344.6" width="5.4" height="11.8" rx="2.7" fill="#fff"/>
<path d="M748.7 348.6H760.6M748.7 351.7H760.6" stroke="#fff" stroke-width="0.9"/>
</svg></body></html>
